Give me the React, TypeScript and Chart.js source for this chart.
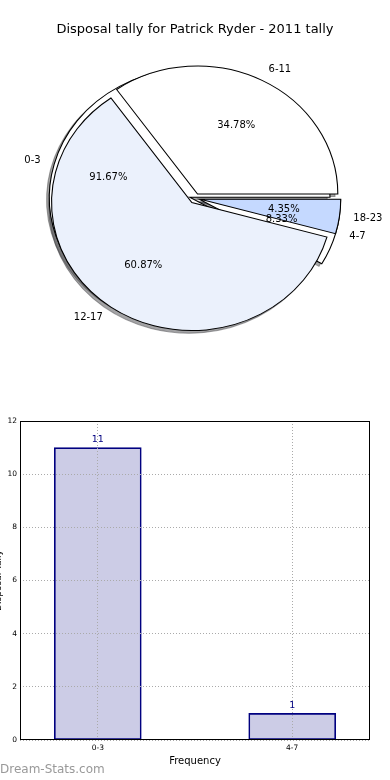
import React, { useEffect, useRef } from 'react';
import { Chart, registerables } from 'chart.js';

Chart.register(...registerables);
Chart.defaults.font.family = '"DejaVu Sans", sans-serif';
Chart.defaults.color = '#000';

// ---- data ----
const TITLE = 'Disposal tally for Patrick Ryder - 2011 tally';
const AGE_LABELS = ['6-11', '12-17', '18-23'];
const AGE_COUNTS = [8, 14, 1];
const AGE_COLORS = ['#FFFFFF', '#EBF1FC', '#C5D9FF'];
const FREQ_LABELS = ['0-3', '4-7'];
const FREQ_COUNTS = [11, 1];
const FREQ_COLORS = ['#FFFFFF', '#FFFFFF'];
const Y_MAX = 12;
const Y_STEP = 2;
const X_TITLE = 'Frequency';
const Y_TITLE = 'Disposal Tally';
const WATERMARK = 'Dream-Stats.com';

// ---- pie geometry / style ----
const R = 128;
const SX = 140.3 / 128;
const EXPLODE = 5;
const SH_DX = -2.56;
const SH_DY = 2.56;
const LABEL_FONT = '10px "DejaVu Sans", sans-serif';

const rev = <T,>(a: T[]) => a.slice().reverse();

function ellipse(ctx: CanvasRenderingContext2D, cx: number, cy: number) {
  ctx.translate(cx, cy);
  ctx.scale(SX, 1);
  ctx.translate(-cx, -cy);
}

function shadowColor(hex: string) {
  const h = hex.replace('#', '');
  const r = parseInt(h.slice(0, 2), 16);
  const g = parseInt(h.slice(2, 4), 16);
  const b = parseInt(h.slice(4, 6), 16);
  return `rgba(${Math.round(r * 0.3)},${Math.round(g * 0.3)},${Math.round(b * 0.3)},0.5)`;
}

function drawShadows(ctx: CanvasRenderingContext2D, arcs: any[]) {
  for (const a of arcs) {
    const mid = (a.startAngle + a.endAngle) / 2;
    ctx.save();
    ellipse(ctx, a.x, a.y);
    ctx.translate(Math.cos(mid) * EXPLODE + SH_DX, Math.sin(mid) * EXPLODE + SH_DY);
    ctx.beginPath();
    ctx.moveTo(a.x, a.y);
    ctx.arc(a.x, a.y, a.outerRadius, a.startAngle, a.endAngle);
    ctx.closePath();
    const c = shadowColor(a.options.backgroundColor);
    ctx.fillStyle = c;
    ctx.strokeStyle = c;
    ctx.lineWidth = 1;
    ctx.fill();
    ctx.stroke();
    ctx.restore();
  }
}

function drawWedges(ctx: CanvasRenderingContext2D, arcs: any[]) {
  for (const a of arcs) {
    const mid = (a.startAngle + a.endAngle) / 2;
    ctx.save();
    ellipse(ctx, a.x, a.y);
    ctx.translate(Math.cos(mid) * EXPLODE, Math.sin(mid) * EXPLODE);
    a.draw(ctx);
    ctx.restore();
  }
}

function drawLabels(ctx: CanvasRenderingContext2D, chart: any) {
  const arcs = chart.getDatasetMeta(0).data;
  const labels = chart.data.labels;
  const values: number[] = chart.data.datasets[0].data;
  const total = values.reduce((s, v) => s + v, 0);
  ctx.save();
  ctx.font = LABEL_FONT;
  ctx.fillStyle = '#000';
  ctx.textBaseline = 'middle';
  arcs.forEach((a: any, i: number) => {
    const mid = (a.startAngle + a.endAngle) / 2;
    const c = Math.cos(mid);
    const s = Math.sin(mid);
    const bx = a.x + SX * EXPLODE * c;
    const by = a.y + EXPLODE * s;
    ctx.textAlign = c > 0 ? 'left' : 'right';
    ctx.fillText(String(labels[i]), bx + SX * 1.1 * R * c, by + 1.1 * R * s);
    ctx.textAlign = 'center';
    ctx.fillText(((values[i] / total) * 100).toFixed(2) + '%', bx + SX * 0.6 * R * c, by + 0.6 * R * s);
  });
  ctx.restore();
}

export default function App() {
  const topRef = useRef<HTMLCanvasElement>(null);
  const botRef = useRef<HTMLCanvasElement>(null);
  const barRef = useRef<HTMLCanvasElement>(null);

  useEffect(() => {
    let pie2: any = null;

    const pie1: any = new Chart(topRef.current!, {
      type: 'pie',
      data: {
        labels: rev(AGE_LABELS),
        datasets: [{
          data: rev(AGE_COUNTS),
          backgroundColor: rev(AGE_COLORS),
          borderColor: '#000',
          borderWidth: 1,
          borderAlign: 'center',
          borderJoinStyle: 'miter',
        } as any],
      },
      options: {
        responsive: false,
        animation: false,
        events: [],
        rotation: 90,
        radius: R,
        plugins: {
          legend: { display: false },
          tooltip: { enabled: false },
          title: {
            display: true,
            text: TITLE,
            color: '#000',
            font: { size: 13, weight: 'normal', lineHeight: '16px' } as any,
            padding: { top: 22, bottom: 10 },
          },
        },
      } as any,
      plugins: [{
        id: 'pie1draw',
        beforeDatasetsDraw(chart: any) {
          drawWedges(chart.ctx, chart.getDatasetMeta(0).data);
          return false;
        },
        afterDraw(chart: any) {
          drawLabels(chart.ctx, chart);
          if (pie2) drawLabels(chart.ctx, pie2);
        },
      }],
    });

    pie2 = new Chart(botRef.current!, {
      type: 'pie',
      data: {
        labels: rev(FREQ_LABELS),
        datasets: [{
          data: rev(FREQ_COUNTS),
          backgroundColor: rev(FREQ_COLORS),
          borderColor: '#000',
          borderWidth: 1,
          borderAlign: 'center',
          borderJoinStyle: 'miter',
        } as any],
      },
      options: {
        responsive: false,
        animation: false,
        events: [],
        rotation: 90,
        radius: R,
        layout: { padding: { top: 48 } },
        plugins: { legend: { display: false }, tooltip: { enabled: false } },
      } as any,
      plugins: [{
        id: 'pie2draw',
        beforeDatasetsDraw(chart: any) {
          const ctx = chart.ctx;
          drawShadows(ctx, chart.getDatasetMeta(0).data);
          drawShadows(ctx, pie1.getDatasetMeta(0).data);
          drawWedges(ctx, chart.getDatasetMeta(0).data);
          return false;
        },
      }],
    });
    pie1.draw();

    const gridCommon = { color: '#aaa', lineWidth: 1, drawTicks: false, z: 1, offset: false };
    const borderCommon = { display: false, dash: [1, 2] };

    const bar = new Chart(barRef.current!, {
      type: 'bar',
      data: {
        datasets: [{
          data: FREQ_LABELS.map((_, i) => ({ x: i, y: FREQ_COUNTS[i] })),
          backgroundColor: 'rgba(0,0,128,0.2)',
          borderColor: '#000080',
          borderWidth: 1,
          borderSkipped: false,
          barThickness: 87,
        } as any],
      },
      options: {
        responsive: false,
        animation: false,
        events: [],
        layout: { padding: { top: 21, right: 20, left: 0, bottom: 0 } },
        plugins: { legend: { display: false }, tooltip: { enabled: false } },
        scales: {
          x: {
            type: 'linear',
            min: -0.4,
            max: 1.4,
            offset: false,
            afterBuildTicks: (s: any) => { s.ticks = FREQ_LABELS.map((_, i) => ({ value: i })); },
            afterFit: (s: any) => { s.height = 40; },
            ticks: {
              callback: (v: any) => FREQ_LABELS[v] ?? '',
              font: { size: 7.5 },
              color: '#000',
              padding: 4,
              maxRotation: 0,
              autoSkip: false,
            },
            grid: gridCommon,
            border: borderCommon,
            title: { display: true, text: X_TITLE, color: '#000', font: { size: 10 }, padding: { top: 0, bottom: 13 } },
          },
          y: {
            min: 0,
            max: Y_MAX,
            afterFit: (s: any) => { s.width = 32; },
            ticks: { stepSize: Y_STEP, font: { size: 7.5 }, color: '#000', padding: 3 },
            grid: gridCommon,
            border: borderCommon,
            title: { display: true, text: Y_TITLE, color: '#000', font: { size: 9 }, padding: { top: 5, bottom: 0 } },
          },
        },
      } as any,
      plugins: [{
        id: 'barextras',
        afterDraw(chart: any) {
          const ctx = chart.ctx;
          const a = chart.chartArea;
          ctx.save();
          ctx.strokeStyle = '#000';
          ctx.lineWidth = 1;
          ctx.strokeRect(Math.round(a.left) + 0.5, Math.round(a.top) + 0.5, Math.round(a.right - a.left) - 1, Math.round(a.bottom - a.top) - 1);
          ctx.font = '9.5px "DejaVu Sans", sans-serif';
          ctx.fillStyle = '#000080';
          ctx.textAlign = 'center';
          ctx.textBaseline = 'bottom';
          const meta = chart.getDatasetMeta(0);
          meta.data.forEach((el: any, i: number) => {
            ctx.fillText(String(FREQ_COUNTS[i]), el.x, el.y - 3);
          });
          ctx.font = '12px "DejaVu Sans", sans-serif';
          ctx.fillStyle = '#999';
          ctx.textAlign = 'left';
          ctx.textBaseline = 'middle';
          ctx.fillText(WATERMARK, 12, 370);
          ctx.restore();
        },
      }],
    });

    return () => {
      pie1.destroy();
      pie2.destroy();
      bar.destroy();
    };
  }, []);

  return (
    <div style={{ position: 'absolute', left: 0, top: 0, width: 390, height: 780, background: '#fff', overflow: 'hidden' }}>
      <canvas ref={botRef} width={390} height={349} style={{ position: 'absolute', left: 0, top: 0, width: 390, height: 349 }} />
      <canvas ref={topRef} width={390} height={349} style={{ position: 'absolute', left: 0, top: 0, width: 390, height: 349 }} />
      <canvas ref={barRef} width={402} height={380} style={{ position: 'absolute', left: -12, top: 400, width: 402, height: 380 }} />
    </div>
  );
}
